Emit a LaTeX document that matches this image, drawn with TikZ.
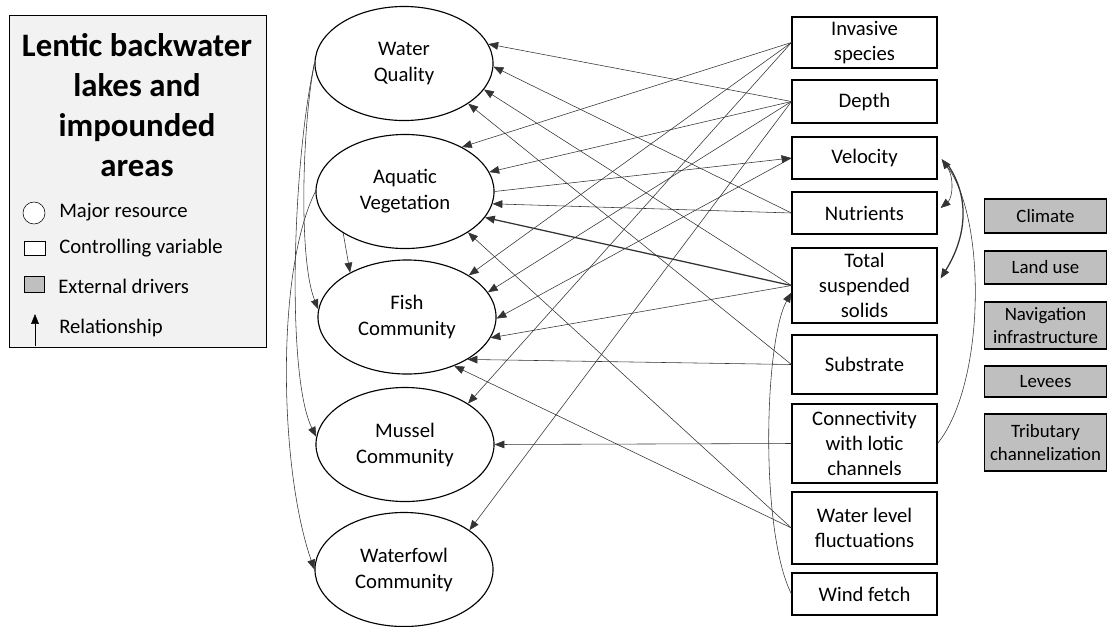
\documentclass[tikz,border=0pt]{standalone}
\usepackage{fontspec}
\setmainfont{Carlito}
\usetikzlibrary{arrows.meta,shapes.geometric,calc}
\tikzset{
    res/.style={draw, ellipse, line width=0.8pt, minimum width=4.45cm, minimum height=2.85cm, inner sep=0pt, align=center, font=\fontsize{14.7}{18.5}\selectfont},
    ctrl/.style={draw, line width=0.8pt, minimum width=3.625cm, inner sep=0pt, align=center, font=\fontsize{14.7}{17.8}\selectfont},
    drv/.style={draw, fill=black!25, line width=0.8pt, minimum width=3.05cm, inner sep=0pt, align=center, font=\fontsize{13.4}{16.5}\selectfont},
    keytext/.style={anchor=west, inner sep=0pt, font=\fontsize{14.7}{16}\selectfont},
    rel/.style={->, draw=black!80, line width=0.4pt},
}
\begin{document}
\begin{tikzpicture}[x=0.025cm, y=-0.025cm, >={Triangle[length=7pt,width=5.5pt]}]
\useasboundingbox (0,0) rectangle (1108,626);

% legend
\node[draw, fill=black!5, line width=0.6pt, minimum width=6.425cm, minimum height=8.3cm] (legend) at (137.5,181) {};
\node[align=center, font=\fontsize{23.3}{28.5}\selectfont\bfseries] (title) at (137,105) {Lentic backwater\\lakes and\\impounded\\areas};
\node[draw, circle, fill=white, minimum size=0.55cm, inner sep=0pt] (keyres) at (34,213) {};
\node[keytext] (keyrestxt) at (59,212) {Major resource};
\node[draw, fill=white, minimum width=0.525cm, minimum height=0.35cm, inner sep=0pt] (keyctrl) at (34.5,248) {};
\node[keytext] (keyctrltxt) at (59,248) {Controlling variable};
\node[draw, fill=black!25, minimum width=0.5cm, minimum height=0.4cm, inner sep=0pt] (keydrv) at (34,284) {};
\node[keytext] (keydrvtxt) at (58,286) {External drivers};
\coordinate (keytail) at (35,346);
\coordinate (keyhead) at (35,314);
\draw[->, line width=0.4pt] (keytail) -- (keyhead);
\node[keytext] (keyreltxt) at (59,328) {Relationship};

% major resources
\node[res] (wq) at (404,63.5) {Water\\Quality};
\node[res] (av) at (405,191.5) {Aquatic\\Vegetation};
\node[res] (fish) at (407,317) {Fish\\Community};
\node[res] (mussel) at (405,444.5) {Mussel\\Community};
\node[res] (fowl) at (404,569.5) {Waterfowl\\Community};

% controlling variables
\node[ctrl, minimum height=1.275cm] (invasive) at (864.5,42.5) {Invasive\\species};
\node[ctrl, minimum height=1.075cm] (depth) at (864.5,101.5) {Depth};
\node[ctrl, minimum height=1.05cm] (velocity) at (864.5,158) {Velocity};
\node[ctrl, minimum height=1.05cm] (nutrients) at (864.5,213) {Nutrients};
\node[ctrl, minimum height=1.875cm] (tss) at (864.5,285.5) {Total\\suspended\\solids};
\node[ctrl, minimum height=1.475cm] (substrate) at (864.5,364.5) {Substrate};
\node[ctrl, minimum height=1.975cm] (connect) at (864.5,443.5) {Connectivity\\with lotic\\channels};
\node[ctrl, minimum height=1.8cm] (waterlvl) at (864.5,528) {Water level\\fluctuations};
\node[ctrl, minimum height=1.05cm] (wind) at (864.5,594) {Wind fetch};

% external drivers
\node[drv, minimum height=0.85cm] (climate) at (1045.5,216) {Climate};
\node[drv, minimum height=0.825cm] (landuse) at (1045.5,267.5) {Land use};
\node[drv, minimum height=1.175cm] (navig) at (1045.5,325.5) {Navigation\\infrastructure};
\node[drv, minimum height=0.775cm] (levees) at (1045.5,381.5) {Levees};
\node[drv, minimum height=1.425cm] (tribut) at (1045.5,442.5) {Tributary\\channelization};

% water quality
\draw[rel] (depth.west) -- (wq.13);
\draw[rel] (nutrients.west) -- (wq.-2);
\draw[rel] (tss.west) -- (wq.-18);
\draw[rel] (substrate.west) -- (wq.-32);
% aquatic vegetation
\draw[rel] (invasive.west) -- (av.38);
\draw[rel] (depth.west) -- (av.13);
\draw[rel] (nutrients.west) -- (av.-8);
\draw[rel, line width=0.9pt] (tss.west) -- (av.-18);
\draw[rel] (waterlvl.west) -- (av.-33);
\draw[rel] (av.0) -- (velocity.west);
% fish
\draw[rel] (invasive.west) -- (fish.34);
\draw[rel] (depth.west) -- (fish.17);
\draw[rel] (velocity.west) -- (fish.-1);
\draw[rel] (tss.west) -- (fish.-14);
\draw[rel] (substrate.west) -- (fish.-35);
\draw[rel] (waterlvl.west) -- (fish.-46);
\draw[rel] (av.214) -- (fish.142);
% mussels and waterfowl
\draw[rel] (invasive.west) -- (mussel.33);
\draw[rel] (connect.west) -- (mussel.0);
\draw[rel] (depth.west) -- (fowl.31);

% curved links on the left
\draw[rel] (wq.west) .. controls +(-12,60) and +(-20,-50) .. (fish.175);
\draw[rel] (wq.west) .. controls +(-22,100) and +(-30,-60) .. (mussel.175);
\draw[rel] (av.west) .. controls +(-40,80) and +(-35,-100) .. (fowl.west);

% curved links on the right
\draw[rel] ($(velocity.east)+(6,5)$) .. controls +(12,10) and +(12,-10) .. ($(nutrients.east)+(3,-5)$);
\draw[rel, line width=0.9pt] ($(velocity.east)+(9,5)$) .. controls +(25,35) and +(25,-40) .. ($(tss.east)+(3,-7)$);
\draw[rel] (connect.east) .. controls +(48,-60) and +(45,60) .. ($(velocity.east)+(4,1)$);
\draw[rel] (wind.west) .. controls +(-32,-64) and +(-27,48) .. ($(tss.west)+(0,7)$);
\end{tikzpicture}
\end{document}
